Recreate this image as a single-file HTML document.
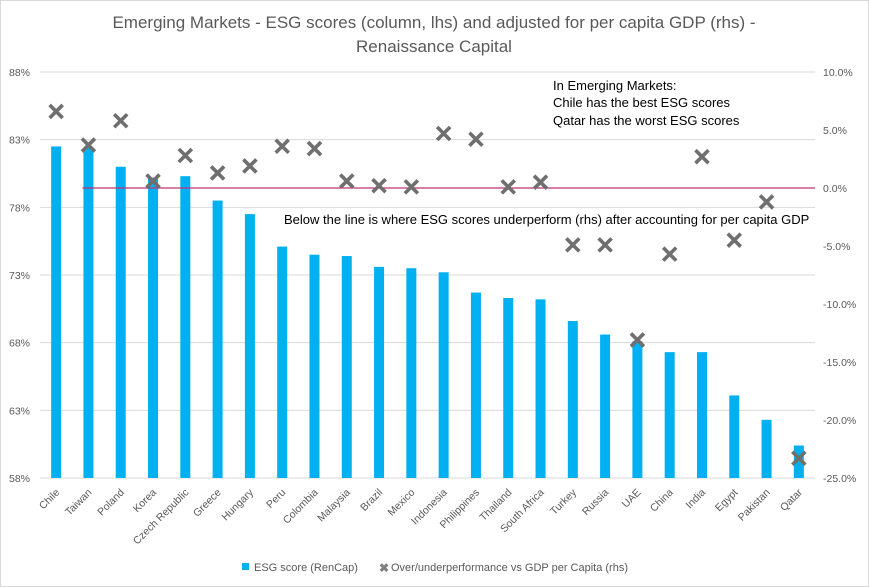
<!DOCTYPE html>
<html><head><meta charset="utf-8"><style>
html,body{margin:0;padding:0;background:#fff;}
svg{display:block;font-family:"Liberation Sans",sans-serif;}
</style></head><body>
<svg id="chart" width="869" height="587" viewBox="0 0 869 587">
<rect x="0.5" y="0.5" width="868" height="586" fill="#fff" stroke="#d9d9d9"/>
<text x="434" y="28" text-anchor="middle" font-size="17" fill="#595959">Emerging Markets - ESG scores (column, lhs) and adjusted for per capita GDP (rhs) -</text>
<text x="434" y="52" text-anchor="middle" font-size="17" fill="#595959">Renaissance Capital</text>
<g id="grid"></g><g id="bars"></g><g id="line"></g><g id="marks"></g><g id="axes"></g>
<text x="553" y="90" font-size="13" fill="#000">In Emerging Markets:</text>
<text x="553" y="107" font-size="13" fill="#000">Chile has the best ESG scores</text>
<text x="553" y="125" font-size="13" fill="#000">Qatar has the worst ESG scores</text>
<text x="284" y="224" font-size="13" fill="#000">Below the line is where ESG scores underperform (rhs) after accounting for per capita GDP</text>
<rect x="242" y="563" width="7" height="7" fill="#00b0f0"/>
<text x="254" y="571" font-size="11" fill="#595959">ESG score (RenCap)</text>
<text x="379" y="572" font-size="12" font-weight="bold" fill="#7f7f7f">✖</text>
<text x="391" y="571" font-size="11" fill="#595959">Over/underperformance vs GDP per Capita (rhs)</text>
</svg>
<script>
const categories=["Chile","Taiwan","Poland","Korea","Czech Republic","Greece","Hungary","Peru","Colombia","Malaysia","Brazil","Mexico","Indonesia","Philippines","Thailand","South Africa","Turkey","Russia","UAE","China","India","Egypt","Pakistan","Qatar"];
const esgScores=[82.5,82.4,81.0,80.2,80.3,78.5,77.5,75.1,74.5,74.4,73.6,73.5,73.2,71.7,71.3,71.2,69.6,68.6,68.1,67.3,67.3,64.1,62.3,60.4];
const perfValues=[6.6,3.7,5.8,0.6,2.8,1.3,1.9,3.6,3.4,0.6,0.2,0.1,4.7,4.2,0.1,0.5,-4.9,-4.9,-13.1,-5.7,2.7,-4.5,-1.2,-23.3];
const leftTicks=[58,63,68,73,78,83,88];
const rightTicks=[-25,-20,-15,-10,-5,0,5,10];
const NS="http://www.w3.org/2000/svg";
const X0=40,X1=815,YT=72,YB=478;
const n=categories.length,step=(X1-X0)/n;
const xc=i=>X0+step*(i+0.5);
const yL=v=>YB-(v-58)/30*(YB-YT);
const yR=v=>YB-(v+25)/35*(YB-YT);
function mk(tag,attrs,parent){const e=document.createElementNS(NS,tag);for(const k in attrs)e.setAttribute(k,attrs[k]);document.getElementById(parent).appendChild(e);return e;}
leftTicks.forEach(t=>{
 const g=mk("line",{x1:X0,x2:X1,y1:yL(t),y2:yL(t),stroke:"#d9d9d9","stroke-width":1},"grid");
 
 
 const l=mk("text",{x:30,y:yL(t)+4,"text-anchor":"end","font-size":"10.5",fill:"#595959"},"axes");
 l.textContent=t+"%";
 
 
});
rightTicks.forEach(t=>{
 const l=mk("text",{x:823,y:yR(t)+4,"font-size":"10.5",fill:"#595959"},"axes");
 l.textContent=t.toFixed(1)+"%";
 
 
});
categories.forEach((c,i)=>{
 const b=mk("rect",{x:xc(i)-5,y:yL(esgScores[i]),width:10,height:YB-yL(esgScores[i]),fill:"#00b0f0"},"bars");
 
 
 const l=mk("text",{x:xc(i)+4,y:493,"text-anchor":"end","font-size":"10.5",fill:"#595959",transform:`rotate(-45 ${xc(i)+4} 493)`},"axes");
 l.textContent=c;
 
 
});
const zl=mk("line",{x1:xc(1)-6,x2:X1,y1:yR(0),y2:yR(0),stroke:"#c0307a","stroke-width":1.3},"line");


perfValues.forEach((v,i)=>{
 const x=xc(i),y=yR(v),s=6.5;
 const p=mk("path",{d:`M${x-s} ${y-s}L${x+s} ${y+s}M${x+s} ${y-s}L${x-s} ${y+s}`,stroke:"#6f6f6f","stroke-width":3.6,"stroke-linecap":"butt"},"marks");
 
 
});
</script>
</body></html>
